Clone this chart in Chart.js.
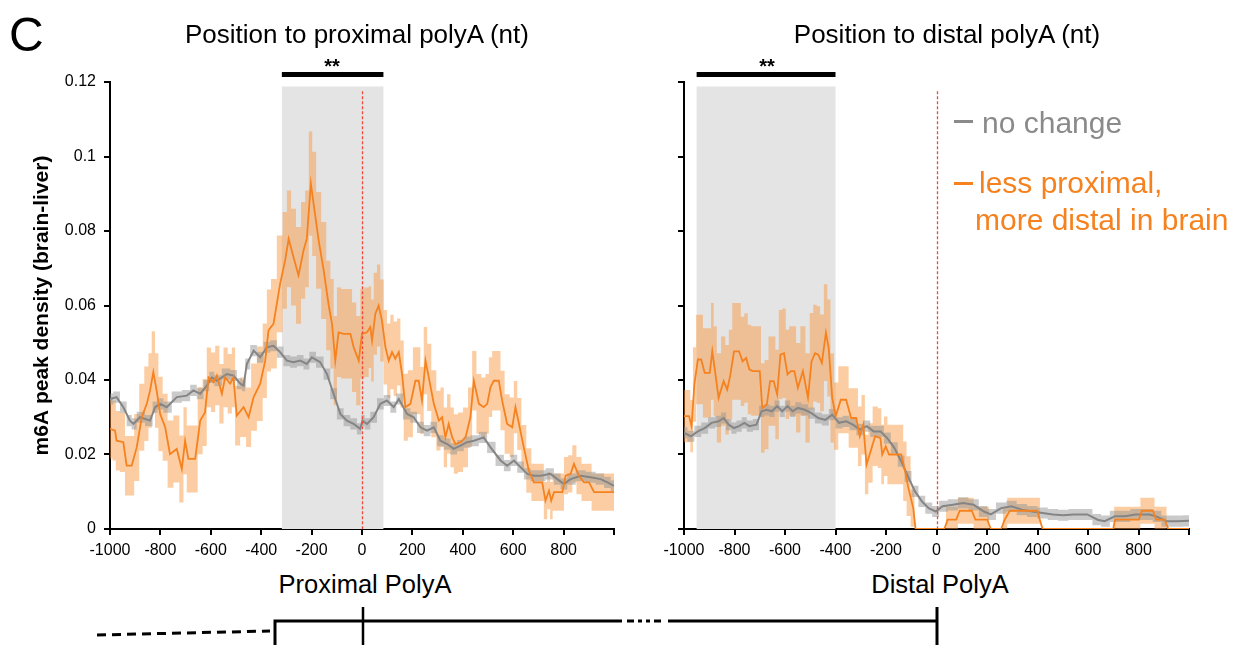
<!DOCTYPE html>
<html>
<head>
<meta charset="utf-8">
<script src="https://cdn.jsdelivr.net/npm/chart.js@4.4.1/dist/chart.umd.min.js"></script>
<style>
  body { margin: 0; background: #fff; width: 1244px; height: 645px; overflow: hidden; position: relative;
         font-family: 'Liberation Sans', Arial, sans-serif; }
  canvas { position: absolute; top: 0; }
  .t { position: absolute; white-space: nowrap; line-height: 1; color: #000; }
  .c { transform: translateX(-50%); }
  .dash { position: absolute; height: 3px; width: 19px; }
</style>
</head>
<body>
<canvas id="proximal" width="640" height="560" style="left:0"></canvas>
<canvas id="distal" width="624" height="560" style="left:620px"></canvas>

<div class="t" style="left:9px;top:11px;font-size:48px">C</div>
<div class="t c" style="left:357px;top:21px;font-size:26px">Position to proximal polyA (nt)</div>
<div class="t c" style="left:947px;top:21px;font-size:26px">Position to distal polyA (nt)</div>
<div class="t c" style="left:332px;top:56px;font-size:20px;font-weight:bold">**</div>
<div class="t c" style="left:767px;top:56px;font-size:20px;font-weight:bold">**</div>

<div class="dash" style="left:954px;top:120px;background:#8a8a8a"></div>
<div class="t" style="left:982px;top:108px;font-size:30px;color:#8a8a8a">no change</div>
<div class="dash" style="left:954px;top:182px;background:#f5821f"></div>
<div class="t" style="left:979px;top:168px;font-size:30px;color:#f5821f">less proximal,</div>
<div class="t" style="left:975px;top:205px;font-size:30px;color:#f5821f">more distal in brain</div>

<div class="t c" style="left:365px;top:572px;font-size:25.5px">Proximal PolyA</div>
<div class="t c" style="left:940px;top:572px;font-size:25.5px">Distal PolyA</div>

<svg style="position:absolute;left:0;top:0" width="1244" height="645">
  <g stroke="#000" fill="none">
    <line x1="97" y1="635" x2="270" y2="631" stroke-width="3" stroke-dasharray="9,6"/>
    <polyline points="275,645 275,621 622,621" stroke-width="3"/>
    <line x1="627" y1="621" x2="662" y2="621" stroke-width="3" stroke-dasharray="7,4,4,4,4,4"/>
    <line x1="668" y1="621" x2="938" y2="621" stroke-width="3"/>
    <line x1="363" y1="607" x2="363" y2="645" stroke-width="2.5"/>
    <line x1="937" y1="607" x2="937" y2="645" stroke-width="3"/>
  </g>
</svg>

<script>
// ---- proximal polyA panel: "less proximal, more distal in brain" (orange)
const proxOrangeX = [
  -1000, -980, -974, -947, -934, -914, -894, -874, -854, -841,
  -828, -815, -801, -781, -762, -735, -715, -702, -689, -662,
  -642, -623, -609, -589, -576, -556, -543, -523, -510, -497,
  -470, -450, -430, -404, -384, -371, -351, -325, -305, -291,
  -272, -252, -232, -219, -203, -192, -172, -152, -132, -119,
  -106, -93, -73, -46, -33, -13, 0, 20, 33, 40,
  53, 66, 79, 93, 106, 119, 132, 146, 159, 172,
  192, 212, 225, 238, 252, 265, 285, 305, 318, 331,
  344, 358, 371, 391, 411, 430, 444, 464, 483, 497,
  510, 523, 543, 556, 576, 596, 609, 623, 642, 662,
  682, 702, 715, 728, 742, 751, 762, 795, 808, 828,
  841, 861, 881, 901, 921, 1000
];
const proxOrangeY = [
  0.0269, 0.0264, 0.0237, 0.0233, 0.0170, 0.0170, 0.0219, 0.0300, 0.0336, 0.0372,
  0.0421, 0.0372, 0.0309, 0.0273, 0.0201, 0.0215, 0.0161, 0.0237, 0.0188, 0.0188,
  0.0291, 0.0313, 0.0407, 0.0394, 0.0412, 0.0363, 0.0407, 0.0390, 0.0407, 0.0304,
  0.0327, 0.0300, 0.0354, 0.0390, 0.0452, 0.0533, 0.0551, 0.0658, 0.0721, 0.0779,
  0.0730, 0.0681, 0.0748, 0.0779, 0.0927, 0.0873, 0.0775, 0.0694, 0.0600, 0.0551,
  0.0452, 0.0528, 0.0524, 0.0524, 0.0488, 0.0452, 0.0524, 0.0528, 0.0542, 0.0506,
  0.0578, 0.0600, 0.0560, 0.0488, 0.0452, 0.0475, 0.0457, 0.0475, 0.0416, 0.0327,
  0.0336, 0.0398, 0.0398, 0.0345, 0.0452, 0.0407, 0.0336, 0.0291, 0.0300, 0.0246,
  0.0282, 0.0246, 0.0228, 0.0233, 0.0246, 0.0300, 0.0398, 0.0336, 0.0327, 0.0336,
  0.0381, 0.0398, 0.0398, 0.0345, 0.0282, 0.0273, 0.0327, 0.0282, 0.0219, 0.0157,
  0.0125, 0.0125, 0.0125, 0.0076, 0.0103, 0.0076, 0.0099, 0.0099, 0.0143, 0.0148,
  0.0175, 0.0143, 0.0125, 0.0125, 0.0099, 0.0099
];
const proxOrangeErr = [
  0.008, 0.008, 0.008, 0.008, 0.008, 0.008, 0.009, 0.009, 0.010, 0.010,
  0.011, 0.010, 0.010, 0.009, 0.009, 0.009, 0.009, 0.009, 0.009, 0.009,
  0.009, 0.009, 0.008, 0.008, 0.008, 0.008, 0.008, 0.008, 0.008, 0.008,
  0.008, 0.008, 0.009, 0.010, 0.010, 0.011, 0.012, 0.013, 0.013, 0.013,
  0.013, 0.013, 0.013, 0.013, 0.014, 0.014, 0.013, 0.013, 0.012, 0.012,
  0.012, 0.012, 0.012, 0.012, 0.012, 0.012, 0.012, 0.012, 0.011, 0.011,
  0.011, 0.011, 0.011, 0.010, 0.010, 0.010, 0.010, 0.009, 0.009, 0.009,
  0.009, 0.009, 0.009, 0.009, 0.009, 0.009, 0.009, 0.008, 0.008, 0.008,
  0.008, 0.008, 0.008, 0.008, 0.008, 0.008, 0.008, 0.008, 0.008, 0.008,
  0.008, 0.008, 0.008, 0.008, 0.008, 0.008, 0.007, 0.007, 0.006, 0.006,
  0.005, 0.005, 0.005, 0.005, 0.005, 0.005, 0.005, 0.005, 0.005, 0.005,
  0.005, 0.005, 0.005, 0.005, 0.005, 0.005
];

// ---- proximal polyA panel: "no change" (gray)
const proxGrayX = [
  -1000, -974, -947, -921, -907, -881, -841, -821, -801, -775,
  -735, -695, -669, -642, -616, -596, -576, -536, -510, -483,
  -470, -457, -430, -404, -377, -351, -325, -298, -272, -245,
  -219, -199, -166, -139, -113, -86, -60, -33, -7, 2,
  20, 46, 73, 99, 126, 146, 179, 205, 232, 258,
  285, 311, 338, 364, 391, 417, 444, 483, 510, 550,
  576, 603, 629, 656, 682, 709, 748, 775, 801, 828,
  868, 907, 947, 974, 1000
];
const proxGrayY = [
  0.0349, 0.0354, 0.0327, 0.0291, 0.0282, 0.0300, 0.0291, 0.0327, 0.0336, 0.0327,
  0.0354, 0.0358, 0.0372, 0.0363, 0.0385, 0.0407, 0.0398, 0.0416, 0.0412, 0.0390,
  0.0385, 0.0443, 0.0479, 0.0461, 0.0488, 0.0492, 0.0475, 0.0452, 0.0448, 0.0452,
  0.0443, 0.0461, 0.0448, 0.0416, 0.0363, 0.0309, 0.0291, 0.0282, 0.0269, 0.0291,
  0.0282, 0.0300, 0.0336, 0.0345, 0.0327, 0.0349, 0.0309, 0.0300, 0.0273, 0.0264,
  0.0273, 0.0237, 0.0228, 0.0215, 0.0224, 0.0233, 0.0237, 0.0246, 0.0219, 0.0184,
  0.0170, 0.0184, 0.0166, 0.0148, 0.0143, 0.0143, 0.0148, 0.0134, 0.0121, 0.0134,
  0.0143, 0.0139, 0.0134, 0.0125, 0.0116
];

// ---- distal polyA panel: orange
const distOrangeX = [
  -1000, -980, -970, -959, -945, -932, -918, -898, -888, -877,
  -863, -843, -829, -816, -802, -782, -768, -754, -741, -727,
  -700, -690, -672, -659, -645, -631, -618, -604, -590, -577,
  -563, -549, -529, -509, -495, -481, -468, -454, -438, -427,
  -413, -399, -379, -358, -338, -318, -304, -290, -277, -263,
  -243, -222, -215, -201, -188, -167, -140, -124, -113, -92,
  -83, 31, 44, 78, 92, 140, 154, 201, 215, 256,
  270, 290, 399, 420, 700, 707, 802, 813, 857, 870,
  904, 918, 1000
];
const distOrangeY = [
  0.0303, 0.0303, 0.0276, 0.0388, 0.0455, 0.0455, 0.0419, 0.0419, 0.0477, 0.0424,
  0.0352, 0.0397, 0.0374, 0.0415, 0.0477, 0.0477, 0.0450, 0.0459, 0.0428, 0.0424,
  0.0424, 0.0325, 0.0334, 0.0397, 0.0397, 0.0361, 0.0468, 0.0472, 0.0415, 0.0424,
  0.0424, 0.0379, 0.0424, 0.0352, 0.0450, 0.0472, 0.0468, 0.0446, 0.0527, 0.0486,
  0.0352, 0.0303, 0.0347, 0.0347, 0.0298, 0.0298, 0.0249, 0.0280, 0.0173, 0.0204,
  0.0249, 0.0244, 0.0200, 0.0222, 0.0200, 0.0200, 0.0200, 0.0155, 0.0115, 0.0056,
  0, 0, 0.0025, 0.0025, 0.0049, 0.0049, 0.0025, 0.0025, 0, 0,
  0.0025, 0.0049, 0.0049, 0, 0, 0.0025, 0.0025, 0.0049, 0.0049, 0.0025,
  0.0025, 0, 0
];
const distOrangeErr = [
  0.007, 0.007, 0.007, 0.010, 0.012, 0.012, 0.012, 0.012, 0.013, 0.012,
  0.012, 0.012, 0.012, 0.012, 0.013, 0.013, 0.012, 0.012, 0.012, 0.012,
  0.012, 0.012, 0.012, 0.012, 0.012, 0.012, 0.012, 0.012, 0.012, 0.012,
  0.012, 0.012, 0.012, 0.012, 0.013, 0.013, 0.013, 0.013, 0.013, 0.013,
  0.012, 0.009, 0.009, 0.009, 0.008, 0.008, 0.008, 0.008, 0.008, 0.008,
  0.008, 0.008, 0.008, 0.008, 0.008, 0.008, 0.008, 0.008, 0.008, 0.005,
  0, 0, 0.0035, 0.0035, 0.0035, 0.0035, 0.0035, 0.0035, 0, 0,
  0.0035, 0.0035, 0.0035, 0, 0, 0.0035, 0.0035, 0.0035, 0.0035, 0.0035,
  0.0035, 0, 0
];

// ---- distal polyA panel: gray
const distGrayX = [
  -1000, -973, -945, -918, -891, -863, -843, -823, -802, -782,
  -761, -741, -713, -693, -672, -652, -631, -611, -590, -570,
  -549, -522, -495, -468, -440, -413, -386, -358, -331, -304,
  -276, -249, -222, -195, -167, -140, -113, -85, -58, -31,
  -3, 24, 65, 106, 147, 188, 215, 256, 297, 338,
  379, 420, 461, 502, 543, 597, 638, 666, 707, 747,
  788, 843, 870, 911, 952, 1000
];
const distGrayY = [
  0.0258, 0.0249, 0.0262, 0.0271, 0.0285, 0.0289, 0.0298, 0.0280, 0.0271, 0.0276,
  0.0285, 0.0276, 0.0280, 0.0316, 0.0320, 0.0316, 0.0330, 0.0316, 0.0330, 0.0316,
  0.0325, 0.0320, 0.0311, 0.0298, 0.0293, 0.0307, 0.0285, 0.0289, 0.0280, 0.0267,
  0.0276, 0.0262, 0.0262, 0.0244, 0.0218, 0.0182, 0.0141, 0.0101, 0.0074, 0.0056,
  0.0047, 0.0061, 0.0065, 0.0070, 0.0065, 0.0047, 0.0039, 0.0056, 0.0061, 0.0052,
  0.0047, 0.0043, 0.0039, 0.0037, 0.0039, 0.0039, 0.0025, 0.0021, 0.0034, 0.0034,
  0.0039, 0.0039, 0.0034, 0.0021, 0.0021, 0.0022
];
const grayErr = 0.0015;

// shaded windows (nt)
const proxWindow = [-318, 85];
const distWindow = [-950, -400];

const ORANGE = '#f5821f';
const ORANGE_BAND = 'rgba(249,150,60,0.48)';
const GRAY = '#858585';
const GRAY_BAND = 'rgba(150,150,150,0.5)';

const pts = (xs, ys) => xs.map((x, i) => ({ x, y: ys[i] }));
const band = (xs, ys, es, s) => xs.map((x, i) => ({ x, y: Math.max(0, ys[i] + s * (Array.isArray(es) ? es[i] : es)) }));

const shade = {
  id: 'shade',
  beforeDatasetsDraw(chart, args, o) {
    const { ctx, scales: { x, y } } = chart;
    const x0 = x.getPixelForValue(o.window[0]), x1 = x.getPixelForValue(o.window[1]);
    const top = y.getPixelForValue(0.1188), bot = y.getPixelForValue(0);
    ctx.save();
    ctx.fillStyle = '#e4e4e4';
    ctx.fillRect(x0, top, x1 - x0, bot - top);
    ctx.restore();
  },
  afterDatasetsDraw(chart) {
    const { ctx, scales: { x, y } } = chart;
    const xz = Math.round(x.getPixelForValue(0)) + 0.5;
    ctx.save();
    ctx.strokeStyle = '#f2483b';
    ctx.lineWidth = 1.3;
    ctx.setLineDash([3, 2]);
    ctx.beginPath();
    ctx.moveTo(xz, y.getPixelForValue(0.1175));
    ctx.lineTo(xz, y.getPixelForValue(0));
    ctx.stroke();
    ctx.restore();
  },
  afterDraw(chart, args, o) {
    const { ctx, scales: { x }, chartArea } = chart;
    const x0 = x.getPixelForValue(o.window[0]), x1 = x.getPixelForValue(o.window[1]);
    ctx.save();
    ctx.fillStyle = '#000';
    ctx.fillRect(x0, chartArea.top - 10, x1 - x0, 5);
    ctx.restore();
  }
};

function panel(id, oX, oY, oErr, gX, gY, win, cfg) {
  const none = { pointRadius: 0, borderWidth: 0, borderColor: 'rgba(0,0,0,0)', stepped: 'middle' };
  return new Chart(document.getElementById(id), {
    type: 'line',
    data: {
      datasets: [
        { label: 'less proximal, more distal in brain', data: pts(oX, oY), borderColor: ORANGE, borderWidth: 1.8, pointRadius: 0, fill: false },
        { label: 'no change', data: pts(gX, gY), borderColor: GRAY, borderWidth: 2, pointRadius: 0, fill: false },
        { ...none, data: band(gX, gY, grayErr, 1), fill: '+1', backgroundColor: GRAY_BAND },
        { ...none, data: band(gX, gY, grayErr, -1), fill: false },
        { ...none, data: band(oX, oY, oErr, 1), fill: '+1', backgroundColor: ORANGE_BAND },
        { ...none, data: band(oX, oY, oErr, -1), fill: false }
      ]
    },
    options: {
      responsive: false,
      animation: false,
      events: [],
      layout: { padding: { top: 82, right: cfg.padRight, left: 0, bottom: 0 } },
      plugins: { legend: { display: false }, tooltip: { enabled: false }, shade: { window: win } },
      scales: {
        x: {
          type: 'linear', min: -1000, max: 1000,
          ticks: {
            stepSize: 200, autoSkip: false, maxRotation: 0, padding: 6, color: '#000',
            font: { family: "'Liberation Sans', Arial", size: 16 },
            callback: v => (v === 1000 ? '' : String(v))
          },
          grid: { drawOnChartArea: false, color: '#000', lineWidth: 2, tickLength: 6 },
          border: { color: '#000', width: 2 },
          afterFit: s => { s.height = 31; }
        },
        y: {
          min: 0, max: 0.12,
          ticks: {
            stepSize: 0.02, padding: 8, color: '#000',
            font: { family: "'Liberation Sans', Arial", size: 16 },
            callback: v => (cfg.yLabels ? (v === 0 ? '0' : String(+v.toFixed(2))) : '')
          },
          grid: { drawOnChartArea: false, color: '#000', lineWidth: 2, tickLength: 6 },
          border: { color: '#000', width: 2 },
          title: {
            display: cfg.yLabels, text: 'm6A peak density (brain-liver)', color: '#000',
            font: { family: "'Liberation Sans', Arial", size: 21, weight: 'bold' },
            padding: { top: 30, bottom: 0 }
          },
          afterFit: s => { s.width = cfg.yWidth; }
        }
      }
    },
    plugins: [shade]
  });
}

panel('proximal', proxOrangeX, proxOrangeY, proxOrangeErr, proxGrayX, proxGrayY, proxWindow,
      { padRight: 26, yWidth: 110, yLabels: true });
panel('distal', distOrangeX, distOrangeY, distOrangeErr, distGrayX, distGrayY, distWindow,
      { padRight: 55, yWidth: 64, yLabels: false });
</script>
</body>
</html>
